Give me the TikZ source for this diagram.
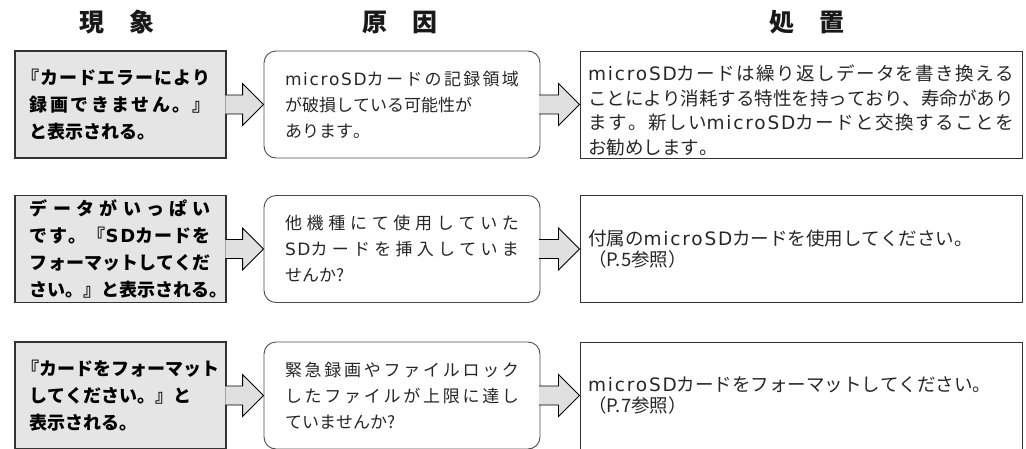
\documentclass[tikz,border=0pt]{standalone}
\usepackage{fontspec}
\setmainfont{Noto Sans CJK JP}
\newfontfamily\latfont[LetterSpace=10]{DejaVu Sans}
\newcommand{\lat}[1]{{\latfont #1}}
\usetikzlibrary{calc}

% stretchable glue between Japanese characters, so that lines can be justified
\XeTeXinterchartokenstate=1
\newcount\jpchar
\newcommand{\jpclass}[2]{\jpchar=#1\relax
  \loop\XeTeXcharclass\jpchar=1\relax\advance\jpchar by 1\relax
  \ifnum\jpchar<#2\repeat}
\jpclass{"3000}{"3100}
\jpclass{"4E00}{"A000}
\jpclass{"FF00}{"FFF0}
\XeTeXinterchartoks 1 1 = {\nobreak\hskip0pt plus .5em\relax}
\XeTeXinterchartoks 0 1 = {\nobreak\hskip0pt plus .5em\relax}
\XeTeXinterchartoks 1 0 = {\nobreak\hskip0pt plus .5em\relax}

% fat arrow from the east side of #1 to the west side of #2
\newcommand{\blockarrow}[2]{%
  \filldraw[blockarrow] ($(#1.east)+(-1.4,-9.5)$) -- ($(#2.west)+(-21,-9.5)$)
    -- ($(#2.west)+(-21,-21)$) -- (#2.west) -- ($(#2.west)+(-21,21)$)
    -- ($(#2.west)+(-21,9.5)$) -- ($(#1.east)+(-1.4,9.5)$);}

\begin{document}
\begin{tikzpicture}[
  x=1pt, y=-1pt,
  headtext/.style={font=\fontsize{25}{30}\selectfont\bfseries,text=black!90},
  signbox/.style={draw=black!80,line width=1.3pt,fill=black!10,minimum width=211pt,minimum height=107pt,
    text width=181pt,inner xsep=15pt,inner ysep=0pt,align=justify,font=\fontsize{18}{27}\selectfont\bfseries},
  causebox/.style={draw=black!70,line width=0.9pt,rounded corners=12pt,minimum width=276pt,minimum height=107pt,
    text width=234pt,inner xsep=21pt,inner ysep=0pt,align=justify,text=black!85,font=\fontsize{17}{26}\selectfont},
  fixbox/.style={draw=black!80,line width=1pt,minimum width=442pt,minimum height=107pt,
    text width=426pt,inner xsep=8pt,inner ysep=0pt,align=justify,text=black!85,font=\fontsize{18.5}{24.5}\selectfont},
  shortfix/.style={fixbox,font=\fontsize{18.5}{21}\selectfont},
  blockarrow/.style={draw=black,line width=0.9pt,fill=black!12,line join=miter}
]
  \useasboundingbox (0,0) rectangle (1026,448);

  \node[headtext] (H1) at (117,22) {現　象};
  \node[headtext] (H2) at (400,22) {原　因};
  \node[headtext] (H3) at (807,22) {処　置};

  \node[signbox] (P1) at (120.5,104.5) {\kern-.5em『カードエラーにより\linebreak 録画できません。』\linebreak と表示される。};
  \node[causebox] (C1) at (402,104.5) {\lat{microSD}カードの記録領域\linebreak が破損している可能性が\\あります。};
  \node[fixbox] (F1) at (801,104.5) {\rule{0pt}{28pt}\lat{microSD}カードは繰り返しデータを書き換える\linebreak ことにより消耗する特性を持っており、寿命があり\linebreak ます。新しい\lat{microSD}カードと交換することを\linebreak お勧めします。};

  \node[signbox] (P2) at (120.5,249) {データがいっぱい\linebreak です。『\lat{SD}カードを\linebreak フォーマットしてくだ\linebreak さい。』と表示される。};
  \node[causebox] (C2) at (402,249) {他機種にて使用していた\linebreak \lat{SD}カードを挿入していま\linebreak せんか?};
  \node[shortfix] (F2) at (801,249) {付属の\lat{microSD}カードを使用してください。\\（P.5参照）};

  \node[signbox] (P3) at (120.5,395.5) {\kern-.5em『カードをフォーマット\linebreak してください。』と\\表示される。};
  \node[causebox] (C3) at (402,395.5) {緊急録画やファイルロック\linebreak したファイルが上限に達し\linebreak ていませんか?};
  \node[shortfix] (F3) at (801,395.5) {\lat{microSD}カードをフォーマットしてください。\\（P.7参照）};

  \blockarrow{P1}{C1}
  \blockarrow{C1}{F1}
  \blockarrow{P2}{C2}
  \blockarrow{C2}{F2}
  \blockarrow{P3}{C3}
  \blockarrow{C3}{F3}
\end{tikzpicture}
\end{document}
